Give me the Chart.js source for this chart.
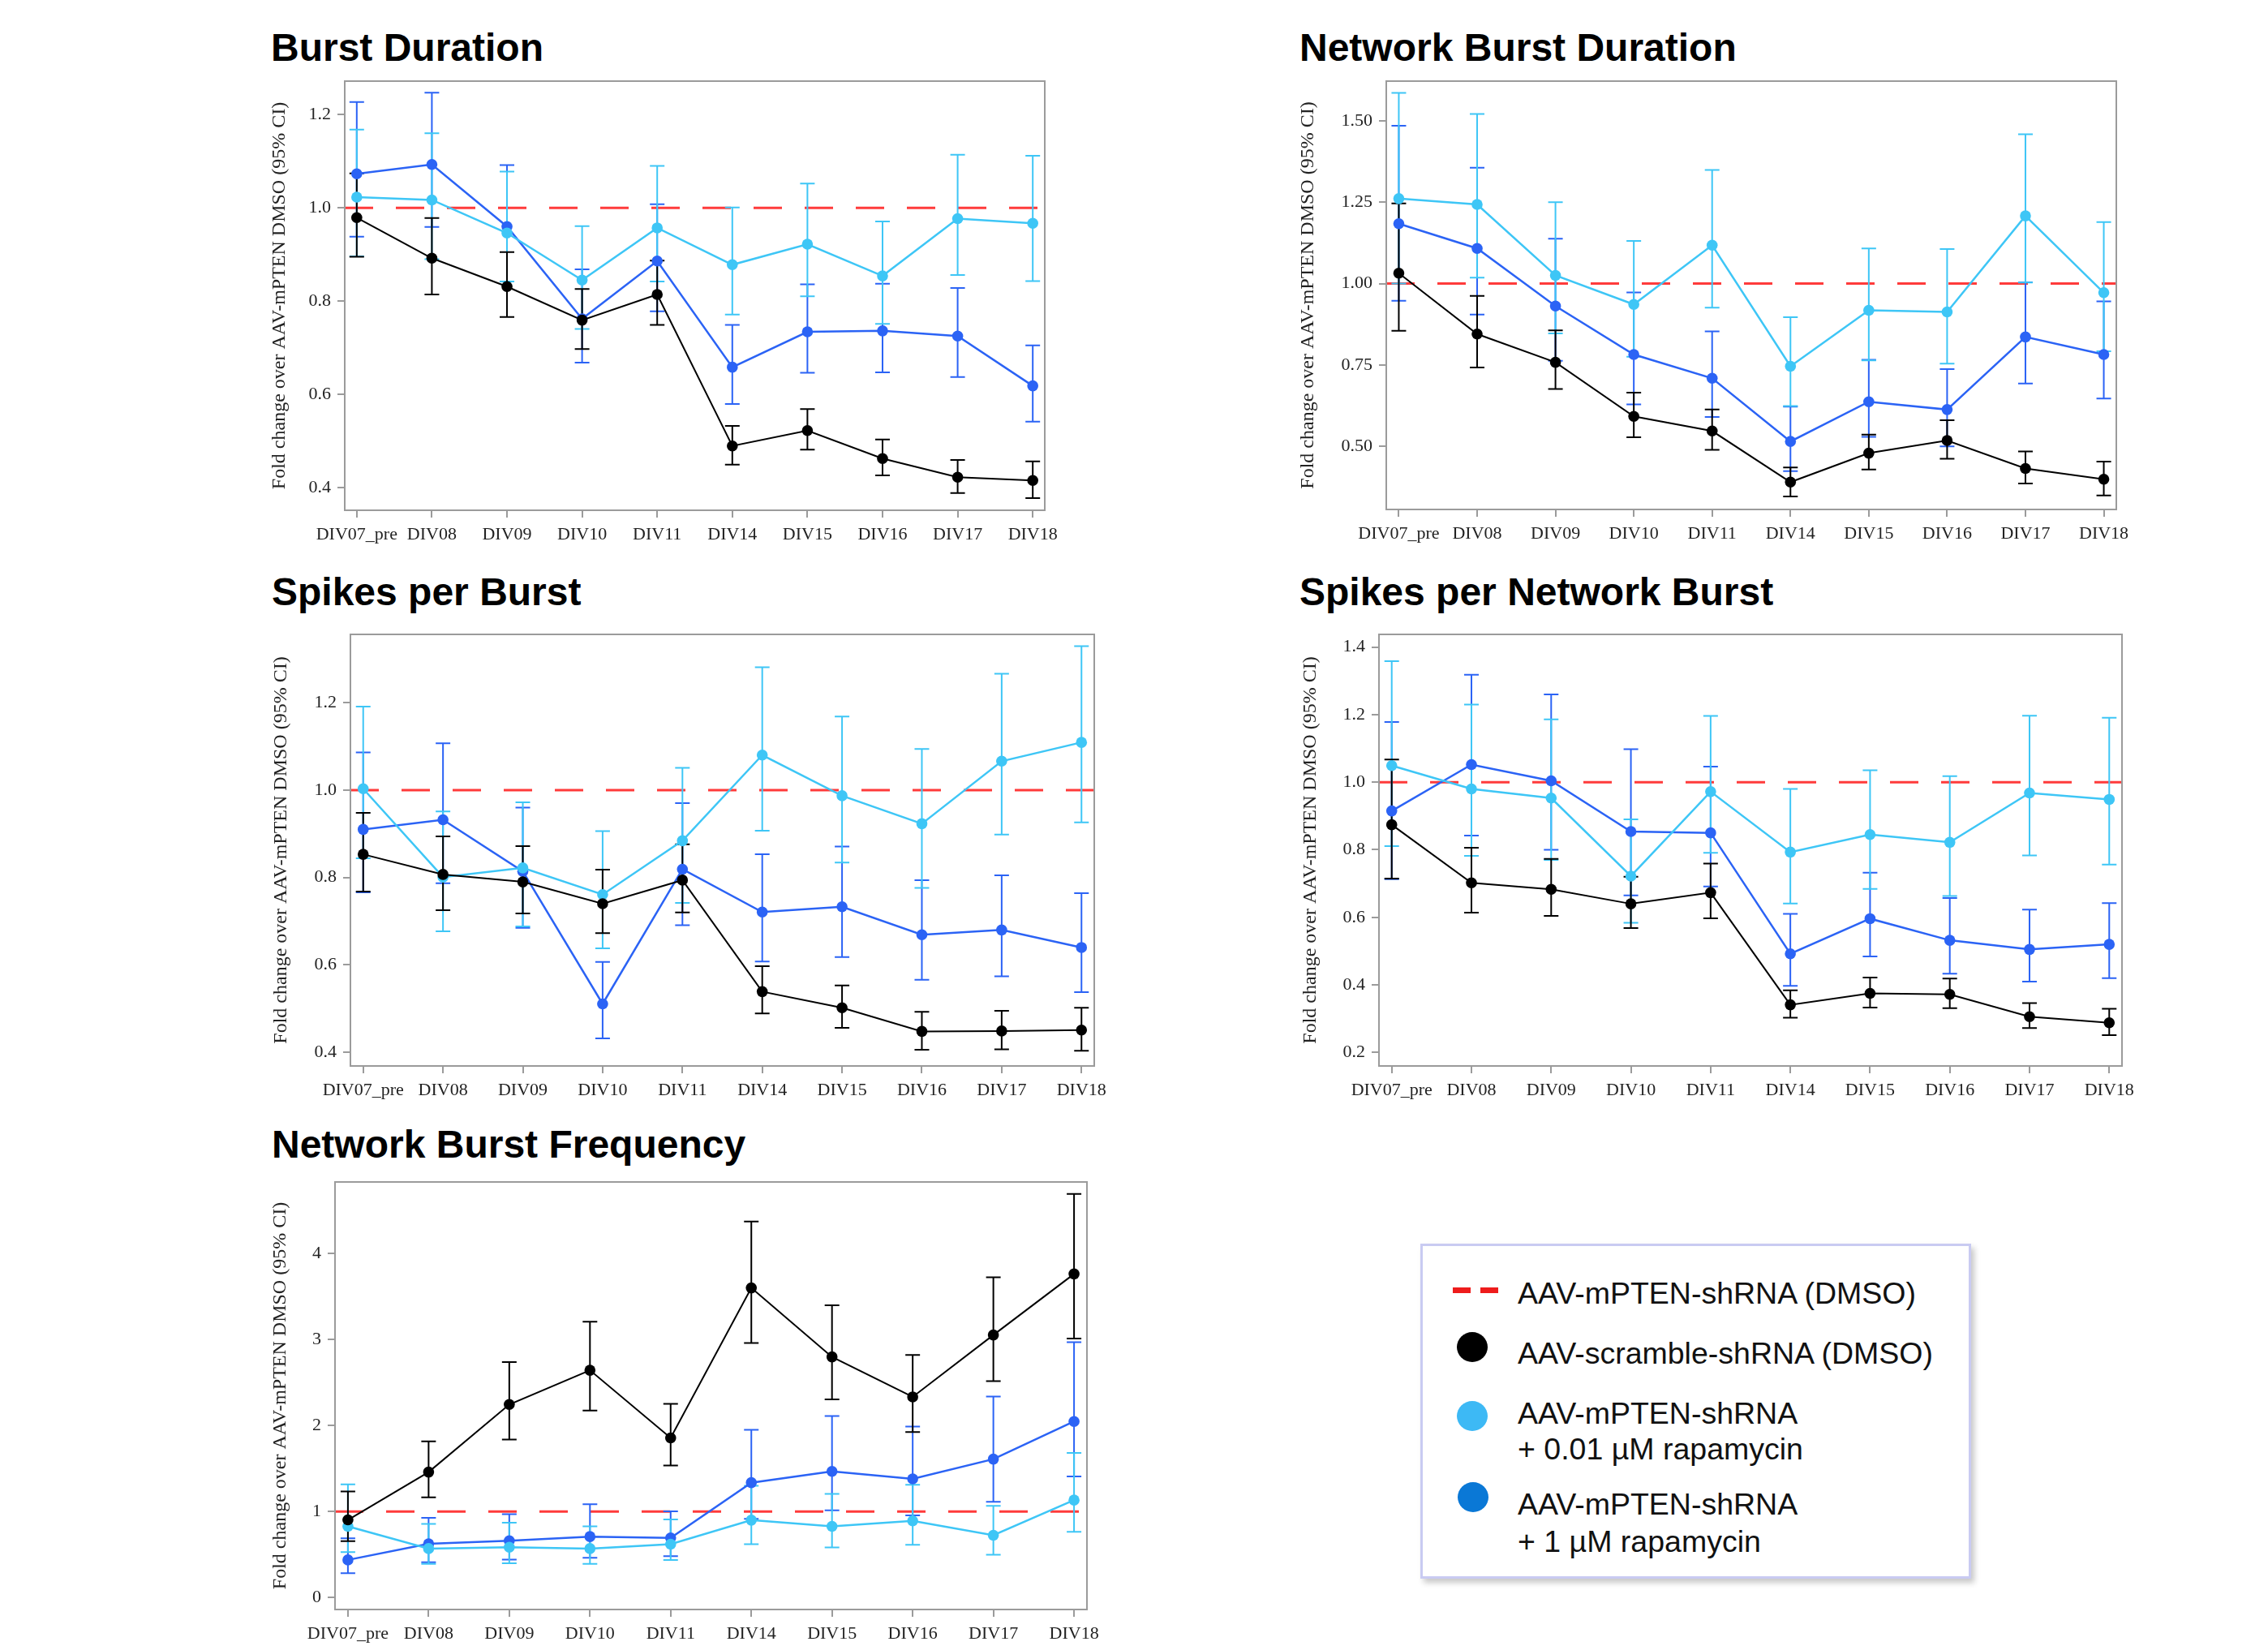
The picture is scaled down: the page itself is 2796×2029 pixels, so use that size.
<!DOCTYPE html>
<html>
<head>
<meta charset="utf-8">
<script src="https://cdn.jsdelivr.net/npm/chart.js@4.4.1/dist/chart.umd.min.js"></script>
<style>
  body{margin:0;background:#fff;width:2796px;height:2029px;position:relative;overflow:hidden;font-family:"Liberation Sans",Arial,sans-serif;}
  canvas{position:absolute;}
  .ttl{position:absolute;font-weight:bold;font-size:48px;line-height:48px;color:#000;white-space:nowrap;}
  .lgbox{position:absolute;left:1751px;top:1533px;width:673px;height:407px;border:3px solid #c9cbf2;box-shadow:4px 5px 7px rgba(0,0,0,0.22);background:#fff;}
  .lgtxt{position:absolute;left:1871px;font-size:37.5px;line-height:36px;color:#111;white-space:nowrap;}
  .dot{position:absolute;width:38px;height:37px;border-radius:50%;}
  .dash{position:absolute;width:22px;height:7px;background:#ee1c1c;}
</style>
</head>
<body>

<div class="lgbox"></div>
<div class="dash" style="left:1791px;top:1587px"></div>
<div class="dash" style="left:1825px;top:1587px"></div>
<div class="lgtxt" style="top:1576px">AAV-mPTEN-shRNA (DMSO)</div>
<div class="dot" style="left:1796px;top:1642px;background:#000"></div>
<div class="lgtxt" style="top:1650px">AAV-scramble-shRNA (DMSO)</div>
<div class="dot" style="left:1796px;top:1727px;background:#3db9f5"></div>
<div class="lgtxt" style="top:1724px">AAV-mPTEN-shRNA</div>
<div class="lgtxt" style="top:1768px">+ 0.01 µM rapamycin</div>
<div class="dot" style="left:1797px;top:1827px;background:#0a78d6"></div>
<div class="lgtxt" style="top:1836px">AAV-mPTEN-shRNA</div>
<div class="lgtxt" style="top:1882px">+ 1 µM rapamycin</div>

<script>
/* ---------- data (fold change over AAV-mPTEN DMSO, 95% CI) ---------- */
const DAYS = ["DIV07_pre","DIV08","DIV09","DIV10","DIV11","DIV14","DIV15","DIV16","DIV17","DIV18"];
const REF_LEVEL = 1;

// Burst Duration
const BD_SCR    = [0.979,0.892,0.831,0.759,0.814,0.489,0.522,0.462,0.422,0.415];
const BD_SCR_LO = [0.895,0.814,0.766,0.697,0.749,0.449,0.481,0.426,0.388,0.377];
const BD_SCR_HI = [1.074,0.978,0.905,0.826,0.887,0.532,0.568,0.503,0.459,0.456];
const BD_R001    = [1.023,1.017,0.946,0.845,0.957,0.878,0.922,0.854,0.977,0.967];
const BD_R001_LO = [0.896,0.890,0.842,0.740,0.842,0.771,0.810,0.751,0.856,0.843];
const BD_R001_HI = [1.168,1.160,1.078,0.961,1.090,1.001,1.052,0.971,1.114,1.112];
const BD_R1    = [1.073,1.093,0.960,0.762,0.886,0.658,0.734,0.736,0.725,0.618];
const BD_R1_LO = [0.938,0.959,0.842,0.668,0.778,0.579,0.646,0.647,0.637,0.541];
const BD_R1_HI = [1.227,1.247,1.092,0.868,1.008,0.749,0.836,0.837,0.828,0.705];
const TICKS_BD = [0.4,0.6,0.8,1.0,1.2];

// Network Burst Duration
const NBD_SCR    = [1.032,0.845,0.758,0.592,0.547,0.390,0.479,0.518,0.432,0.399];
const NBD_SCR_LO = [0.855,0.742,0.676,0.528,0.489,0.346,0.429,0.462,0.386,0.349];
const NBD_SCR_HI = [1.246,0.962,0.856,0.665,0.613,0.435,0.536,0.580,0.484,0.453];
const NBD_R001    = [1.261,1.243,1.025,0.936,1.118,0.746,0.918,0.913,1.208,0.972];
const NBD_R001_LO = [1.000,1.018,0.847,0.775,0.926,0.624,0.764,0.754,1.003,0.792];
const NBD_R001_HI = [1.586,1.521,1.250,1.131,1.349,0.897,1.108,1.106,1.459,1.189];
const NBD_R1    = [1.184,1.108,0.931,0.782,0.709,0.515,0.637,0.613,0.836,0.782];
const NBD_R1_LO = [0.947,0.905,0.763,0.629,0.590,0.424,0.529,0.500,0.693,0.647];
const NBD_R1_HI = [1.485,1.356,1.138,0.973,0.853,0.622,0.766,0.737,1.004,0.945];
const TICKS_NBD = [0.5,0.75,1.0,1.25,1.5];

// Spikes per Burst
const SPB_SCR    = [0.853,0.807,0.790,0.740,0.794,0.539,0.502,0.448,0.449,0.451];
const SPB_SCR_LO = [0.768,0.725,0.718,0.673,0.720,0.489,0.456,0.406,0.407,0.404];
const SPB_SCR_HI = [0.948,0.894,0.872,0.818,0.876,0.597,0.553,0.493,0.495,0.502];
const SPB_R001    = [1.003,0.801,0.822,0.761,0.884,1.080,0.987,0.923,1.066,1.109];
const SPB_R001_LO = [0.844,0.677,0.688,0.638,0.742,0.907,0.834,0.776,0.898,0.926];
const SPB_R001_HI = [1.191,0.951,0.972,0.906,1.051,1.281,1.168,1.094,1.266,1.329];
const SPB_R1    = [0.910,0.932,0.814,0.511,0.819,0.721,0.733,0.669,0.680,0.640];
const SPB_R1_LO = [0.766,0.787,0.685,0.432,0.691,0.608,0.618,0.566,0.574,0.538];
const SPB_R1_HI = [1.086,1.107,0.960,0.607,0.970,0.853,0.871,0.794,0.805,0.764];
const TICKS_SPB = [0.4,0.6,0.8,1.0,1.2];

// Spikes per Network Burst
const SPNB_SCR    = [0.874,0.702,0.683,0.640,0.673,0.341,0.375,0.372,0.306,0.288];
const SPNB_SCR_LO = [0.715,0.614,0.604,0.568,0.597,0.303,0.333,0.331,0.272,0.251];
const SPNB_SCR_HI = [1.067,0.806,0.773,0.720,0.759,0.384,0.422,0.419,0.346,0.329];
const SPNB_R001    = [1.049,0.980,0.953,0.722,0.972,0.793,0.845,0.822,0.968,0.949];
const SPNB_R001_LO = [0.811,0.782,0.770,0.584,0.791,0.641,0.684,0.663,0.783,0.756];
const SPNB_R001_HI = [1.358,1.230,1.186,0.890,1.196,0.980,1.035,1.018,1.197,1.191];
const SPNB_R1    = [0.915,1.052,1.004,0.854,0.850,0.492,0.596,0.532,0.505,0.520];
const SPNB_R1_LO = [0.713,0.842,0.800,0.665,0.691,0.397,0.484,0.433,0.410,0.420];
const SPNB_R1_HI = [1.178,1.318,1.260,1.098,1.046,0.610,0.732,0.657,0.623,0.642];
const TICKS_SPNB = [0.2,0.4,0.6,0.8,1.0,1.2,1.4];

// Network Burst Frequency
const NBF_SCR    = [0.903,1.459,2.246,2.644,1.857,3.602,2.799,2.334,3.054,3.765];
const NBF_SCR_LO = [0.656,1.165,1.837,2.175,1.535,2.962,2.306,1.924,2.517,3.014];
const NBF_SCR_HI = [1.233,1.817,2.740,3.209,2.254,4.374,3.400,2.823,3.726,4.696];
const NBF_R001    = [0.827,0.569,0.584,0.569,0.620,0.900,0.827,0.891,0.724,1.133];
const NBF_R001_LO = [0.529,0.390,0.398,0.390,0.437,0.620,0.581,0.612,0.497,0.763];
const NBF_R001_HI = [1.316,0.855,0.871,0.827,0.907,1.300,1.205,1.312,1.066,1.682];
const NBF_R1    = [0.437,0.624,0.660,0.708,0.692,1.336,1.467,1.380,1.610,2.048];
const NBF_R1_LO = [0.282,0.410,0.441,0.461,0.481,0.915,1.014,0.954,1.113,1.408];
const NBF_R1_HI = [0.688,0.926,0.970,1.085,1.002,1.952,2.111,1.988,2.338,2.970];
const TICKS_NBF = [0,1,2,3,4];

/* ---------- look ---------- */
const BLACK = "#000000", LIGHT = "#3ec6f6", BLUE = "#2b63f5", RED = "#ff3b3b", FRAME = "#9b9b9b";
const SERIF = "'Liberation Serif','Times New Roman',serif";
const AXW = 120;      // width reserved for y ticks + title
const XAXH = 60;      // height reserved for x tick labels
const TOPPAD = 30;    // room above the plot box (covers top tick label overflow)

// frame = [left, top, right, bottom] of the plot box on the page
const PANELS = [
  { title:"Burst Duration", tl:[334,76], frame:[425,100,1288,629], yMin:0.351, yMax:1.272, ticks:TICKS_BD, dec:1, gap:80,
    series:[[BD_SCR,BD_SCR_LO,BD_SCR_HI],[BD_R001,BD_R001_LO,BD_R001_HI],[BD_R1,BD_R1_LO,BD_R1_HI]] },
  { title:"Network Burst Duration", tl:[1602,76], frame:[1709,100,2609,628], yMin:0.306, yMax:1.622, ticks:TICKS_NBD, dec:2, gap:96,
    series:[[NBD_SCR,NBD_SCR_LO,NBD_SCR_HI],[NBD_R001,NBD_R001_LO,NBD_R001_HI],[NBD_R1,NBD_R1_LO,NBD_R1_HI]] },
  { title:"Spikes per Burst", tl:[335,747], frame:[432,782,1349,1314], yMin:0.369, yMax:1.356, ticks:TICKS_SPB, dec:1, gap:85,
    series:[[SPB_SCR,SPB_SCR_LO,SPB_SCR_HI],[SPB_R001,SPB_R001_LO,SPB_R001_HI],[SPB_R1,SPB_R1_LO,SPB_R1_HI]] },
  { title:"Spikes per Network Burst", tl:[1602,747], frame:[1700,782,2616,1314], yMin:0.160, yMax:1.4375, ticks:TICKS_SPNB, dec:1, gap:84,
    series:[[SPNB_SCR,SPNB_SCR_LO,SPNB_SCR_HI],[SPNB_R001,SPNB_R001_LO,SPNB_R001_HI],[SPNB_R1,SPNB_R1_LO,SPNB_R1_HI]] },
  { title:"Network Burst Frequency", tl:[335,1428], frame:[413,1457,1340,1984], yMin:-0.14, yMax:4.835, ticks:TICKS_NBF, dec:0, gap:67,
    series:[[NBF_SCR,NBF_SCR_LO,NBF_SCR_HI],[NBF_R001,NBF_R001_LO,NBF_R001_HI],[NBF_R1,NBF_R1_LO,NBF_R1_HI]] }
];
const COLORS = [BLACK, LIGHT, BLUE];
const WIDTHS = [2, 2.5, 2.5];

/* ---------- plugin: reference line, CI whiskers, frame ---------- */
const fcExtras = {
  id: "fcExtras",
  beforeDatasetsDraw(chart){
    const {ctx, chartArea:a, scales:{x, y}} = chart;
    ctx.save();
    ctx.beginPath(); ctx.rect(a.left, a.top, a.right-a.left, a.bottom-a.top); ctx.clip();
    // DMSO reference (fold change = 1)
    const yr = y.getPixelForValue(REF_LEVEL);
    ctx.strokeStyle = RED; ctx.lineWidth = 3; ctx.setLineDash([35, 28]);
    ctx.beginPath(); ctx.moveTo(a.left, yr); ctx.lineTo(a.right, yr); ctx.stroke();
    ctx.setLineDash([]);
    // 95% CI bars, last dataset first so black ends up on top
    for(let d = chart.data.datasets.length-1; d >= 0; d--){
      const ds = chart.data.datasets[d];
      ctx.strokeStyle = ds.borderColor; ctx.lineWidth = 2;
      ds.data.forEach((p, i) => {
        const px = x.getPixelForValue(p.x);
        const lo = y.getPixelForValue(ds.lo[i]), hi = y.getPixelForValue(ds.hi[i]);
        ctx.beginPath();
        ctx.moveTo(px, lo); ctx.lineTo(px, hi);
        ctx.moveTo(px-9, lo); ctx.lineTo(px+9, lo);
        ctx.moveTo(px-9, hi); ctx.lineTo(px+9, hi);
        ctx.stroke();
      });
    }
    ctx.restore();
  },
  afterDraw(chart){
    const {ctx, chartArea:a} = chart;
    ctx.save(); ctx.strokeStyle = FRAME; ctx.lineWidth = 2;
    ctx.strokeRect(a.left, a.top, a.right-a.left, a.bottom-a.top);
    ctx.restore();
  }
};

/* ---------- build panels ---------- */
PANELS.forEach(p => {
  const [L, T, R, B] = p.frame;
  const ttl = document.createElement("div");
  ttl.className = "ttl"; ttl.textContent = p.title;
  ttl.style.left = p.tl[0] + "px"; ttl.style.top = (p.tl[1] - 41) + "px";
  document.body.appendChild(ttl);

  const cv = document.createElement("canvas");
  cv.width = (R-L) + AXW + 40; cv.height = (B-T) + TOPPAD + XAXH;
  cv.style.left = (L - AXW) + "px"; cv.style.top = (T - TOPPAD) + "px";
  document.body.appendChild(cv);

  const datasets = p.series.map((s, k) => ({
    data: s[0].map((v, i) => ({x:i, y:v})),
    lo: s[1], hi: s[2],
    borderColor: COLORS[k], backgroundColor: COLORS[k],
    pointBackgroundColor: COLORS[k], pointBorderWidth: 0,
    pointRadius: 6.8, borderWidth: WIDTHS[k], tension: 0
  }));

  new Chart(cv, {
    type: "line",
    data: { datasets },
    plugins: [fcExtras],
    options: {
      responsive:false, animation:false, devicePixelRatio:1,
      layout:{ padding:{ left:0, top:TOPPAD, right:40, bottom:0 } },
      plugins:{ legend:{display:false}, tooltip:{enabled:false} },
      scales:{
        x:{
          type:"linear", min:-0.16, max:DAYS.length-1+0.16,
          afterBuildTicks: s => { s.ticks = DAYS.map((_, i) => ({value:i})); },
          afterFit: s => { s.height = XAXH; },
          grid:{ drawOnChartArea:false, drawTicks:true, tickLength:9, color:FRAME, lineWidth:2 },
          border:{ display:false },
          ticks:{ autoSkip:false, maxRotation:0, minRotation:0, padding:8, color:"#222",
                  font:{ family:SERIF, size:22 }, callback: v => DAYS[v] }
        },
        y:{
          type:"linear", min:p.yMin, max:p.yMax,
          afterBuildTicks: s => { s.ticks = p.ticks.map(v => ({value:v})); },
          afterFit: s => { s.width = AXW; },
          grid:{ drawOnChartArea:false, drawTicks:true, tickLength:9, color:FRAME, lineWidth:2 },
          border:{ display:false },
          ticks:{ padding:8, color:"#222", font:{ family:SERIF, size:22 }, callback: v => Number(v).toFixed(p.dec) },
          title:{ display:true, text:"Fold change over AAV-mPTEN DMSO (95% CI)", color:"#222",
                  font:{ family:SERIF, size:24 }, padding:{ top: AXW - p.gap - 14.4, bottom:0 } }
        }
      }
    }
  });
});
</script>
</body>
</html>
